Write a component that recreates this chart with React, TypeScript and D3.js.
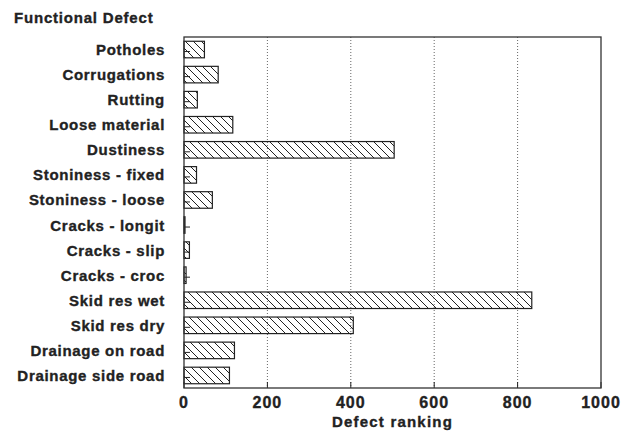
import React from "react";
import * as d3 from "d3";

const categories = [
  "Potholes",
  "Corrugations",
  "Rutting",
  "Loose material",
  "Dustiness",
  "Stoniness - fixed",
  "Stoniness - loose",
  "Cracks - longit",
  "Cracks - slip",
  "Cracks - croc",
  "Skid res wet",
  "Skid res dry",
  "Drainage on road",
  "Drainage side road",
];
const values = [49, 82, 32, 117, 504, 30, 68, 1, 13, 5, 834, 406, 121, 109];
const xTicks = [0, 200, 400, 600, 800, 1000];

const W = 637;
const H = 432;
const left = 184;
const right = 601;
const top = 37;
const bottom = 388;
const FONT = "'Liberation Sans', Arial, Helvetica, sans-serif";
const textStyle = { stroke: "#222", strokeWidth: 0.35 } as const;

export default function App() {
  const x = d3.scaleLinear().domain([0, 1000]).range([left, right]);
  const y = d3.scaleBand<string>().domain(categories).range([top, bottom]).paddingInner(0.34).paddingOuter(0.17);

  return (
    <svg width={W} height={H} style={{ position: "absolute", left: 0, top: 0, background: "#fff" }}>
      <defs>
        <pattern id="hatch" patternUnits="userSpaceOnUse" width={8} height={8}>
          <path d="M-2,-2 L10,10 M-2,6 L2,10 M6,-2 L10,2" stroke="#222" strokeWidth={1} />
        </pattern>
      </defs>
      <rect x={0} y={0} width={W} height={H} fill="#fff" />
      <text x={14} y={23} fontFamily={FONT} fontWeight="bold" fontSize={15} letterSpacing={0.8} fill="#222" {...textStyle}>
        Functional Defect
      </text>
      {xTicks.slice(1, -1).map((t) => (
        <line key={"g" + t} x1={x(t)} x2={x(t)} y1={top} y2={bottom} stroke="#666" strokeWidth={1} strokeDasharray="1,2" />
      ))}
      {categories.map((c, i) => (
        <rect
          key={c}
          x={x(0)}
          y={y(c)}
          width={Math.max(x(values[i]) - x(0), 1)}
          height={y.bandwidth()}
          fill="url(#hatch)"
          stroke="#222"
          strokeWidth={1.2}
        />
      ))}
      {categories.map((c) => (
        <line key={"t" + c} x1={left} x2={left + 6} y1={(y(c) as number) + y.bandwidth() / 2 + 2} y2={(y(c) as number) + y.bandwidth() / 2 + 2} stroke="#222" strokeWidth={1} />
      ))}
      {xTicks.map((t) => (
        <line key={"bt" + t} x1={x(t)} x2={x(t)} y1={bottom} y2={bottom - 6} stroke="#222" strokeWidth={1} />
      ))}
      <rect x={left} y={top} width={right - left} height={bottom - top} fill="none" stroke="#333" strokeWidth={1.3} />
      {categories.map((c) => (
        <text
          key={"l" + c}
          x={165}
          y={(y(c) as number) + y.bandwidth() / 2 + 5.5}
          textAnchor="end"
          fontFamily={FONT}
          fontWeight="bold"
          fontSize={15}
          letterSpacing={0.7}
          fill="#222"
          {...textStyle}
        >
          {c}
        </text>
      ))}
      {xTicks.map((t) => (
        <text key={"xl" + t} x={x(t)} y={408} textAnchor="middle" fontFamily={FONT} fontWeight="bold" fontSize={16} letterSpacing={1} fill="#222" {...textStyle}>
          {t}
        </text>
      ))}
      <text x={(left + right) / 2} y={427} textAnchor="middle" fontFamily={FONT} fontWeight="bold" fontSize={15} letterSpacing={1.2} fill="#222" {...textStyle}>
        Defect ranking
      </text>
    </svg>
  );
}
